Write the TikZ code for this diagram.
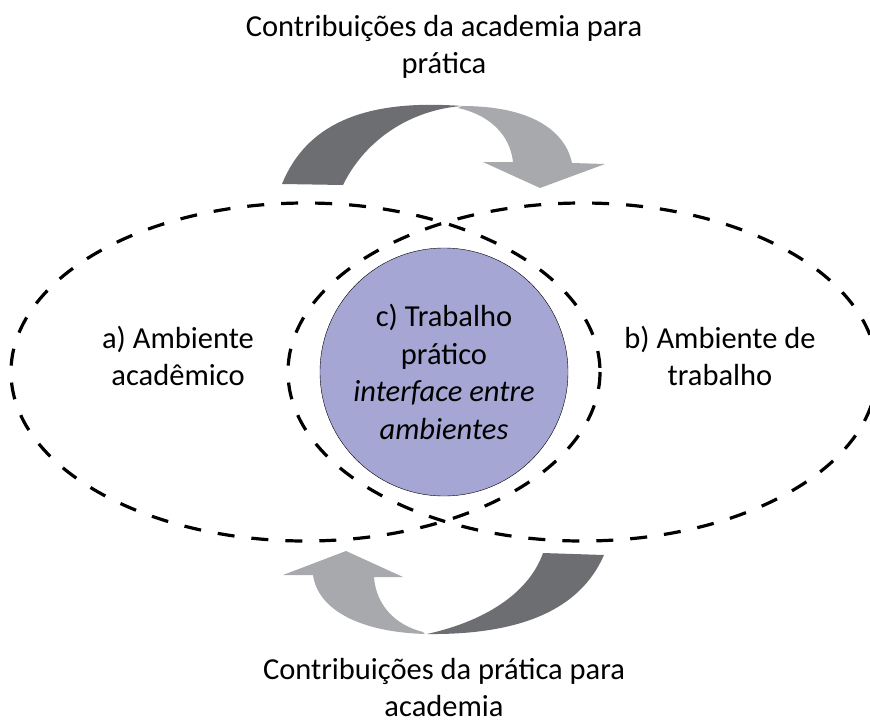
\documentclass[tikz,border=0pt]{standalone}
\usepackage{fontspec}
\setmainfont{Carlito}
\definecolor{setaescura}{HTML}{6D6E71}
\definecolor{setaclara}{HTML}{A7A9AC}
\definecolor{interface}{HTML}{A5A6D4}
\tikzset{
  ambiente/.style={line width=3.2pt, dash pattern=on 17pt off 17pt},
  texto/.style={align=center, inner sep=0pt, font=\fontsize{30.5}{37.5}\selectfont},
}
\begin{document}
\begin{tikzpicture}[x=1pt, y=-1pt]
\useasboundingbox (0,0) rectangle (870,723);

% ambientes
\draw[ambiente] (305.5,372) ellipse [x radius=294.5, y radius=169];
\draw[ambiente] (582.5,372) ellipse [x radius=294.5, y radius=169];

\node[circle, draw, thin, fill=interface, minimum size=248pt, texto] (trabalho) at (444,372)
  {c) Trabalho\\ prático\\ \textit{interface entre}\\ \textit{ambientes}};

\node[texto] (academico) at (178,356) {a) Ambiente\\ acadêmico};
\node[texto] (mercado) at (720,356) {b) Ambiente de\\ trabalho};

% seta de cima
\fill[setaescura] (282,184) .. controls (310,115) and (380,100) .. (462,106)
  .. controls (410,110) and (365,140) .. (343,185) -- cycle;
\fill[setaclara] (462,106) .. controls (530,106) and (565,130) .. (572,163)
  -- (605,164) -- (540,188) -- (483,162) -- (513,162)
  .. controls (510,135) and (490,115) .. (458,108) -- cycle;

% seta de baixo
\fill[setaescura] (543,553) -- (604,555) .. controls (580,610) and (520,635) .. (427,634)
  .. controls (490,620) and (530,590) .. (543,553) -- cycle;
\fill[setaclara] (425,634) .. controls (360,632) and (318,610) .. (313,575)
  -- (283,575) -- (346,551) -- (403,577) -- (374,577)
  .. controls (376,605) and (395,625) .. (423,632) -- cycle;

\node[texto] (praticaTop) at (444,47) {Contribuições da academia para\\ prática};
\node[texto, text depth=0pt, anchor=south] (academiaBot) at (444,717) {Contribuições da prática para\\ academia};

\end{tikzpicture}
\end{document}
